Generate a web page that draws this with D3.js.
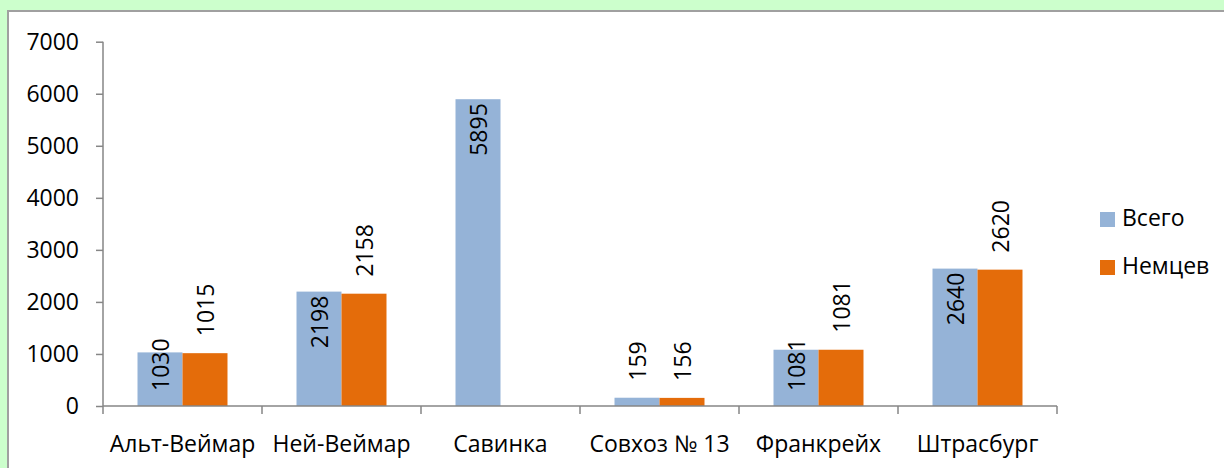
<!DOCTYPE html>
<html><head><meta charset="utf-8">
<script src="https://cdn.jsdelivr.net/npm/d3@7"></script>
<style>
html,body{margin:0;padding:0;background:#CCFFCC;}
svg{display:block;}
text{font-family:"Open Sans","Noto Sans",sans-serif;fill:#000;}
</style></head>
<body>
<svg id="c" width="1224" height="468"></svg>
<script>
const categories = ["Альт-Веймар","Ней-Веймар","Савинка","Совхоз № 13","Франкрейх","Штрасбург"];
const seriesNames = ["Всего","Немцев"];
const totalValues = [1030, 2198, 5895, 159, 1081, 2640];
const germanValues = [1015, 2158, null, 156, 1081, 2620];
const yTicks = [0,1000,2000,3000,4000,5000,6000,7000];
const colors = ["#95B3D7","#E46C0A"];

const svg = d3.select("#c");
// white panel
svg.append("rect").attr("x",8).attr("y",11).attr("width",1230).attr("height",470)
  .attr("fill","#fff").attr("stroke","#A0A0A0").attr("stroke-width",2);

const x0 = 103, x1 = 1057, yTop = 41.7, yBot = 406;
const x = d3.scaleBand().domain(categories).range([x0,x1]).paddingInner(0.434).paddingOuter(0.217);
const xi = d3.scaleBand().domain(seriesNames).range([0,x.bandwidth()]);
const y = d3.scaleLinear().domain([0,7000]).range([yBot,yTop]);

const fs = 23;
// y axis
const ya = svg.append("g").attr("transform",`translate(${x0},0)`)
  .call(d3.axisLeft(y).tickValues(yTicks).tickSize(7).tickPadding(17).tickFormat(d3.format("d")));
ya.select(".domain").attr("stroke","#868686").attr("stroke-width",1.5).attr("d",`M0,${yTop}V${yBot}`);
ya.selectAll(".tick line").attr("stroke","#868686").attr("stroke-width",1.5);
ya.selectAll(".tick text").attr("font-size",fs).attr("font-family","Open Sans").attr("fill","#000");

const rows = categories.map((c,i)=>({c, vals:[totalValues[i], germanValues[i]]}));

const g = svg.append("g");
rows.forEach(r=>{
  r.vals.forEach((v,j)=>{
    if(v==null) return;
    const bx = x(r.c)+xi(seriesNames[j]);
    g.append("rect").attr("x",bx).attr("y",y(v)).attr("width",xi.bandwidth()).attr("height",yBot-y(v))
      .attr("fill",colors[j]);
  });
});

// x axis
const xa = svg.append("g").attr("transform",`translate(0,${yBot})`);
xa.append("path").attr("d",`M${x0},0H${x1}`).attr("stroke","#868686").attr("stroke-width",1.5).attr("fill","none");
const bounds = categories.map(c=>x(c)-x.step()*x.paddingInner()/2).concat([x1]);
bounds.forEach(b=>xa.append("line").attr("x1",b).attr("x2",b).attr("y1",0).attr("y2",8).attr("stroke","#868686").attr("stroke-width",1.5));
categories.forEach(c=>{
  xa.append("text").attr("x",x(c)+x.bandwidth()/2).attr("y",46).attr("text-anchor","middle")
    .attr("font-size",fs).text(c);
});

// data labels
rows.forEach(r=>{
  r.vals.forEach((v,j)=>{
    if(v==null) return;
    const cx = x(r.c)+xi(seriesNames[j])+xi.bandwidth()/2;
    const t = g.append("text").attr("font-size",fs).attr("text-anchor","start").attr("dominant-baseline","central").text(v);
    const len = t.node().getComputedTextLength();
    const barTop = y(v), h = yBot-barTop;
    let bottom;
    if(j===0 && h > len*0.6){
      const top = Math.min(barTop+4, yBot-15-len);
      bottom = top+len;
    } else {
      bottom = barTop-17;
    }
    t.attr("transform",`translate(${cx},${bottom}) rotate(-90)`);
  });
});

// legend
seriesNames.forEach((s,i)=>{
  const ly = 212 + i*48;
  svg.append("rect").attr("x",1100).attr("y",ly).attr("width",15).attr("height",15).attr("fill",colors[i]);
  svg.append("text").attr("x",1122).attr("y",ly+14).attr("font-size",fs).text(s);
});
</script>
</body></html>
